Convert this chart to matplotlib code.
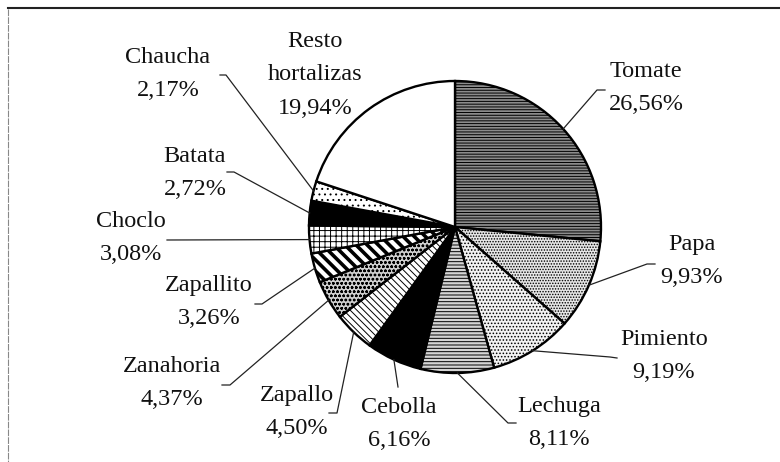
import matplotlib.pyplot as plt
import numpy as np

# Data: share of each vegetable (%), clockwise from 12 o'clock
cultivos = ['Tomate', 'Papa', 'Pimiento', 'Lechuga', 'Cebolla', 'Zapallo',
            'Zanahoria', 'Zapallito', 'Choclo', 'Batata', 'Chaucha',
            'Resto\nhortalizas']
porcentajes = [26.56, 9.93, 9.19, 8.11, 6.16, 4.50, 4.37, 3.26, 3.08, 2.72, 2.17, 19.94]

# Styling per wedge (fill + hatch), roughly like the scanned figure
colores = ['#8c8c8c', '#e6e6e6', '#f2f2f2', '#d4d4d4', 'black', 'white',
           '#cfcfcf', 'white', 'white', 'black', 'white', 'white']
tramas = ['------', '......', '.....', '-----', '', '\\\\\\\\\\',
          'oooo', '\\\\\\', '+++', '', '...', '']

# Label block centres and leader elbows, in pixels from the top-left corner
W, H = 780, 462
pos_texto = [(646, 88), (692, 261), (664, 356), (559, 423), (399, 424),
             (297, 412), (172, 383), (209, 302), (131, 238), (195, 173),
             (168, 74), (315, 75)]
codos = [[(597, 90), (605, 90)],
         [(647, 264), (655, 264)],
         [(610, 357), (617, 358)],
         [(508, 423), (516, 423)],
         [(398, 387)],
         [(337, 413), (329, 413)],
         [(230, 385), (222, 385)],
         [(262, 304), (255, 304)],
         [(167, 240)],
         [(234, 172), (227, 172)],
         [(226, 75), (220, 75)],
         None]

plt.rcParams['font.family'] = ['Liberation Serif', 'DejaVu Serif']
plt.rcParams['hatch.linewidth'] = 0.7

fig = plt.figure(figsize=(W / 100, H / 100), dpi=100)
ax = fig.add_axes([0, 0, 1, 1])

centro = (455, H - 227)
radio = 146
wedges, _ = ax.pie(porcentajes, startangle=90, counterclock=False,
                   center=centro, radius=radio,
                   wedgeprops=dict(edgecolor='black', linewidth=1.7))
for w, c, t in zip(wedges, colores, tramas):
    w.set_facecolor(c)
    if t:
        w.set_hatch(t)
# thicker stripes on Zapallito
if hasattr(wedges[7], 'set_hatch_linewidth'):
    wedges[7].set_hatch_linewidth(2.6)

ax.set_xlim(0, W)
ax.set_ylim(0, H)
ax.set_aspect('auto')
ax.axis('off')

# labels and leader lines
for i, (nombre, val) in enumerate(zip(cultivos, porcentajes)):
    tx, ty = pos_texto[i]
    etiqueta = f"{nombre}\n{val:.2f}%".replace('.', ',')
    ax.text(tx, H - ty, etiqueta, ha='center', va='center', fontsize=17.5,
            linespacing=1.8, color='#111111')
    if codos[i] is None:
        continue
    w = wedges[i]
    ang = np.deg2rad((w.theta1 + w.theta2) / 2)
    xs = [centro[0] + radio * np.cos(ang)] + [p[0] for p in codos[i]]
    ys = [centro[1] + radio * np.sin(ang)] + [H - p[1] for p in codos[i]]
    ax.plot(xs, ys, color='#222222', lw=0.9)

# frame remnants of the scanned page
ax.plot([8, W], [H - 8, H - 8], color='#222222', lw=1.5)
ax.plot([8, 8], [H - 9, 0], color='#888888', lw=0.8, ls=(0, (6, 1)))

fig.savefig('out.png', dpi=100)
